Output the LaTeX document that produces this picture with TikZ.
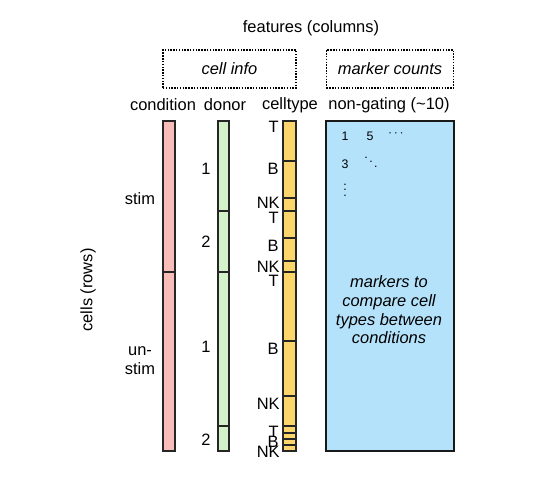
\documentclass[tikz,border=0pt]{standalone}
\usepackage{fontspec}
\usepackage{amsmath}
\usepackage{tikz}
\setmainfont{Liberation Sans}
\usetikzlibrary{positioning}
\definecolor{condfill}{HTML}{F8BDB8}
\definecolor{donorfill}{HTML}{D4F2C9}
\definecolor{typefill}{HTML}{FCD66A}
\definecolor{markerfill}{HTML}{B5E2FB}
\tikzset{bar/.style = {draw=black!85, line width = 0.9pt}}
\tikzset{groupbox/.style = {draw, line width = 0.9pt, dash pattern = on 1pt off 1pt,
                            minimum width = 3.325cm, minimum height = 0.95cm,
                            font = \fontsize{11.7}{13.3}\selectfont\itshape}}
\tikzset{small/.style = {font = \fontsize{8.8}{10}\selectfont, inner sep = 0}}
\tikzset{typelbl/.style = {anchor = east, inner sep = 0}}

\begin{document}
\begin{tikzpicture}[x = 0.025cm, y = -0.025cm,
                    every node/.style = {font = \fontsize{11.7}{13.3}\selectfont}]
      \useasboundingbox (0, 0) rectangle (540, 480);

      \node (title) at (311, 28) {features (columns)};

      \node [groupbox] (cellinfo) at (229.5, 69) {cell info};
      \node [groupbox, minimum width = 3.175cm] (markers) at (390, 69) {marker counts};

      \node (condhead) at (163, 105) {condition};
      \node (donorhead) at (225, 105) {donor};
      \node (typehead) at (290, 105) {celltype};
      \node (markerhead) at (389, 105) {non-gating (\textasciitilde 10)};

      \node [rotate = 90] (rows) at (88, 290) {cells (rows)};

      % condition
      \draw [bar, fill = condfill] (163, 121) rectangle (175, 451);
      \draw [bar] (163, 272) -- (175, 272);
      \node (stim) at (140, 199) {stim};
      \node [align = center] (unstim) at (140, 361) {un-\\stim};

      % donor
      \draw [bar, fill = donorfill] (218, 121) rectangle (229, 451);
      \foreach \y in {211, 272, 426}
        \draw [bar] (218, \y) -- (229, \y);
      \node (donorA) at (206, 169) {1};
      \node (donorB) at (206, 242) {2};
      \node (donorC) at (206, 347) {1};
      \node (donorD) at (206, 440) {2};

      % celltype
      \draw [bar, fill = typefill] (283, 121) rectangle (296, 451);
      \foreach \y in {161, 198, 211, 238, 261, 272, 341, 396, 426, 433, 439, 445}
        \draw [bar] (283, \y) -- (296, \y);
      \node [typelbl] (tA) at (279, 127) {T};
      \node [typelbl] (bA) at (279, 169) {B};
      \node [typelbl] (nkA) at (280, 203) {NK};
      \node [typelbl] (tB) at (279, 218) {T};
      \node [typelbl] (bB) at (279, 246) {B};
      \node [typelbl] (nkB) at (280, 267) {NK};
      \node [typelbl] (tC) at (279, 281) {T};
      \node [typelbl] (bC) at (279, 349) {B};
      \node [typelbl] (nkC) at (280, 404) {NK};
      \node [typelbl] (tD) at (279, 432) {T};
      \node [typelbl] (bD) at (279, 442) {B};
      \node [typelbl] (nkD) at (280, 452) {NK};

      % marker counts
      \draw [draw = black!90, line width = 1.3pt, fill = markerfill] (326, 121) rectangle (454, 451);
      \node [small] (mA) at (345, 136) {1};
      \node [small] (mB) at (370, 136) {5};
      \node [small] (mC) at (397, 134) {$\cdots$};
      \node [small] (mD) at (345, 164) {3};
      \node [small] (mE) at (371, 158) {$\ddots$};
      \node [small] (mF) at (345, 186) {$\vdots$};
      \node [align = center, font = \fontsize{11.7}{13.3}\selectfont\itshape] (goal) at (389, 310)
            {markers to\\compare cell\\types between\\conditions};
\end{tikzpicture}
\end{document}
